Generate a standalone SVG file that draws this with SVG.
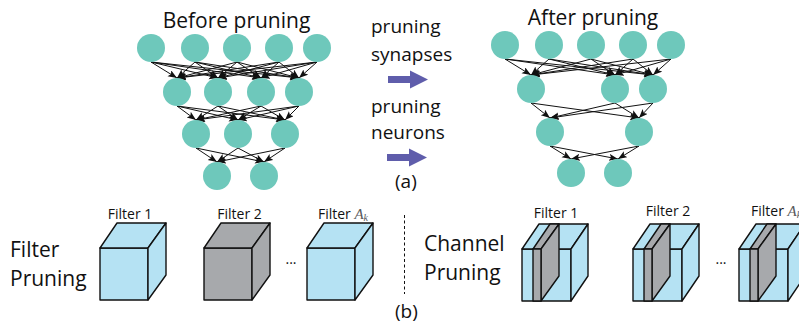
<svg xmlns="http://www.w3.org/2000/svg" xmlns:xlink="http://www.w3.org/1999/xlink" width="799" height="324" viewBox="0 0 799 324">
<style>
text{font-family:"Open Sans","Noto Sans",sans-serif;fill:#111}
.t{font-size:21px}.m{font-size:19px}.h{font-size:21px;text-anchor:middle}.f{font-size:14px;text-anchor:middle}
.n{fill:#6ec8bb}
.c line{stroke:#111;stroke-width:1;marker-end:url(#a)}
.b{fill:#b5e2f3;stroke:#111;stroke-width:1.400;stroke-linejoin:round}
.g{fill:#a7a9ac;stroke:#111;stroke-width:1.400;stroke-linejoin:round}
.i{font-family:"Liberation Serif",serif;font-style:italic;fill:#58595b}
</style>
<defs>
<marker id="a" markerUnits="userSpaceOnUse" markerWidth="11" markerHeight="8" refX="9" refY="3.500" orient="auto"><path d="M0 0L9 3.500L0 7L2 3.500Z" fill="#111"/></marker>
<g id="cube"><path class="b" d="M0 0H48V52H0Z"/><path class="b" d="M0 0L17-25H66L48 0Z"/><path class="b" d="M48 0L66-25V27L48 52Z"/></g>
<g id="gcube"><path class="g" d="M0 0H48V52H0Z"/><path class="g" d="M0 0L17-25H66L48 0Z"/><path class="g" d="M48 0L66-25V27L48 52Z" fill="#939598"/></g>
<g id="ccube"><path class="b" d="M0 0H49V52H0Z"/><path class="b" d="M0 0L17-25H66L49 0Z"/><path class="b" d="M49 0L66-25V27L49 52Z"/><path class="g" d="M11 0L28-25H37L19 0Z"/><path class="g" d="M19 0L37-25V27L19 52Z"/><path class="g" d="M11 0H19V52H11Z"/></g>
<path id="arr" d="M0-3.500H22V-9L40 0L22 9V3.500H0Z" fill="#5f5dab"/>
</defs>
<g id="connectors" class="c">
<line x1="151" y1="62" x2="177" y2="78"/><line x1="151" y1="62" x2="218" y2="78"/><line x1="151" y1="62" x2="261" y2="78"/><line x1="151" y1="62" x2="299" y2="78"/>
<line x1="195" y1="62" x2="177" y2="78"/><line x1="195" y1="62" x2="218" y2="78"/><line x1="195" y1="62" x2="261" y2="78"/><line x1="195" y1="62" x2="299" y2="78"/>
<line x1="237" y1="62" x2="177" y2="78"/><line x1="237" y1="62" x2="218" y2="78"/><line x1="237" y1="62" x2="261" y2="78"/><line x1="237" y1="62" x2="299" y2="78"/>
<line x1="279" y1="62" x2="177" y2="78"/><line x1="279" y1="62" x2="218" y2="78"/><line x1="279" y1="62" x2="261" y2="78"/><line x1="279" y1="62" x2="299" y2="78"/>
<line x1="317" y1="62" x2="177" y2="78"/><line x1="317" y1="62" x2="218" y2="78"/><line x1="317" y1="62" x2="261" y2="78"/><line x1="317" y1="62" x2="299" y2="78"/>
<line x1="177" y1="106" x2="196" y2="120"/><line x1="177" y1="106" x2="238" y2="120"/><line x1="177" y1="106" x2="285" y2="120"/>
<line x1="218" y1="106" x2="196" y2="120"/><line x1="218" y1="106" x2="238" y2="120"/><line x1="218" y1="106" x2="285" y2="120"/>
<line x1="261" y1="106" x2="196" y2="120"/><line x1="261" y1="106" x2="238" y2="120"/><line x1="261" y1="106" x2="285" y2="120"/>
<line x1="299" y1="106" x2="196" y2="120"/><line x1="299" y1="106" x2="238" y2="120"/><line x1="299" y1="106" x2="285" y2="120"/>
<line x1="196" y1="148" x2="217" y2="162"/><line x1="196" y1="148" x2="264" y2="162"/><line x1="238" y1="148" x2="217" y2="162"/><line x1="238" y1="148" x2="264" y2="162"/><line x1="285" y1="148" x2="217" y2="162"/><line x1="285" y1="148" x2="264" y2="162"/>
<line x1="505" y1="59" x2="531" y2="75"/><line x1="505" y1="59" x2="615" y2="75"/><line x1="505" y1="59" x2="653" y2="75"/>
<line x1="549" y1="59" x2="531" y2="75"/><line x1="549" y1="59" x2="615" y2="75"/><line x1="549" y1="59" x2="653" y2="75"/>
<line x1="591" y1="59" x2="531" y2="75"/><line x1="591" y1="59" x2="615" y2="75"/><line x1="591" y1="59" x2="653" y2="75"/>
<line x1="633" y1="59" x2="531" y2="75"/><line x1="633" y1="59" x2="615" y2="75"/><line x1="633" y1="59" x2="653" y2="75"/>
<line x1="671" y1="59" x2="531" y2="75"/><line x1="671" y1="59" x2="615" y2="75"/><line x1="671" y1="59" x2="653" y2="75"/>
<line x1="531" y1="103" x2="550" y2="118"/><line x1="531" y1="103" x2="639" y2="118"/><line x1="615" y1="103" x2="550" y2="118"/><line x1="615" y1="103" x2="639" y2="118"/><line x1="653" y1="103" x2="550" y2="118"/><line x1="653" y1="103" x2="639" y2="118"/>
<line x1="550" y1="146" x2="571" y2="159"/><line x1="550" y1="146" x2="618" y2="159"/><line x1="639" y1="146" x2="571" y2="159"/><line x1="639" y1="146" x2="618" y2="159"/>
<line x1="404.500" y1="215" x2="404.500" y2="294" style="stroke-dasharray:3 2.500;marker-end:none"/>
</g>
<g id="before-net">
<circle class="n" cx="151" cy="48" r="14"/><circle class="n" cx="195" cy="48" r="14"/><circle class="n" cx="237" cy="48" r="14"/><circle class="n" cx="279" cy="48" r="14"/><circle class="n" cx="317" cy="48" r="14"/>
<circle class="n" cx="177" cy="92" r="14"/><circle class="n" cx="218" cy="92" r="14"/><circle class="n" cx="261" cy="92" r="14"/><circle class="n" cx="299" cy="92" r="14"/>
<circle class="n" cx="196" cy="134" r="14"/><circle class="n" cx="238" cy="134" r="14"/><circle class="n" cx="285" cy="134" r="14"/>
<circle class="n" cx="217" cy="176" r="14"/><circle class="n" cx="264" cy="176" r="14"/>
<text class="h" x="236.500" y="28">Before pruning</text>
</g>
<g id="after-net">
<circle class="n" cx="505" cy="45" r="14"/><circle class="n" cx="549" cy="45" r="14"/><circle class="n" cx="591" cy="45" r="14"/><circle class="n" cx="633" cy="45" r="14"/><circle class="n" cx="671" cy="45" r="14"/>
<circle class="n" cx="531" cy="89" r="14"/><circle class="n" cx="615" cy="89" r="14"/><circle class="n" cx="653" cy="89" r="14"/>
<circle class="n" cx="550" cy="132" r="14"/><circle class="n" cx="639" cy="132" r="14"/>
<circle class="n" cx="571" cy="173" r="14"/><circle class="n" cx="618" cy="173" r="14"/>
<text class="h" x="593" y="25">After pruning</text>
</g>
<g id="middle">
<text class="m" x="371" y="33">pruning</text>
<text class="m" x="371" y="61">synapses</text>
<use xlink:href="#arr" x="388" y="79.500"/>
<text class="m" x="371" y="113">pruning</text>
<text class="m" x="371" y="139">neurons</text>
<use xlink:href="#arr" x="387" y="157.500"/>
<text x="395" y="188" style="font-size:19px">(a)</text>
<text x="395" y="318" style="font-size:19px">(b)</text>
</g>
<g id="filter-pruning">
<text class="t" x="10" y="257">Filter</text>
<text class="t" x="10" y="286">Pruning</text>
<use xlink:href="#cube" x="100" y="248"/><use xlink:href="#gcube" x="204" y="248"/><use xlink:href="#cube" x="307" y="248"/>
<text class="f" x="130" y="219">Filter 1</text>
<text class="f" x="239.500" y="219">Filter 2</text>
<text class="f" x="343" y="219">Filter <tspan class="i" style="font-size:15px">A<tspan dy="2" style="font-size:10px">k</tspan></tspan></text>
<text class="f" x="291" y="264">...</text>
</g>
<g id="channel-pruning">
<text class="t" x="424" y="251">Channel</text>
<text class="t" x="424" y="280">Pruning</text>
<use xlink:href="#ccube" x="522" y="249"/><use xlink:href="#ccube" x="633" y="249"/><use xlink:href="#ccube" x="739" y="249"/>
<text class="f" x="556" y="218">Filter 1</text>
<text class="f" x="668" y="216">Filter 2</text>
<text x="751" y="216" style="font-size:14px">Filter <tspan class="i" style="font-size:15px">A<tspan dy="2" style="font-size:10px">k</tspan></tspan></text>
<text class="f" x="721" y="264">...</text>
</g>
</svg>
